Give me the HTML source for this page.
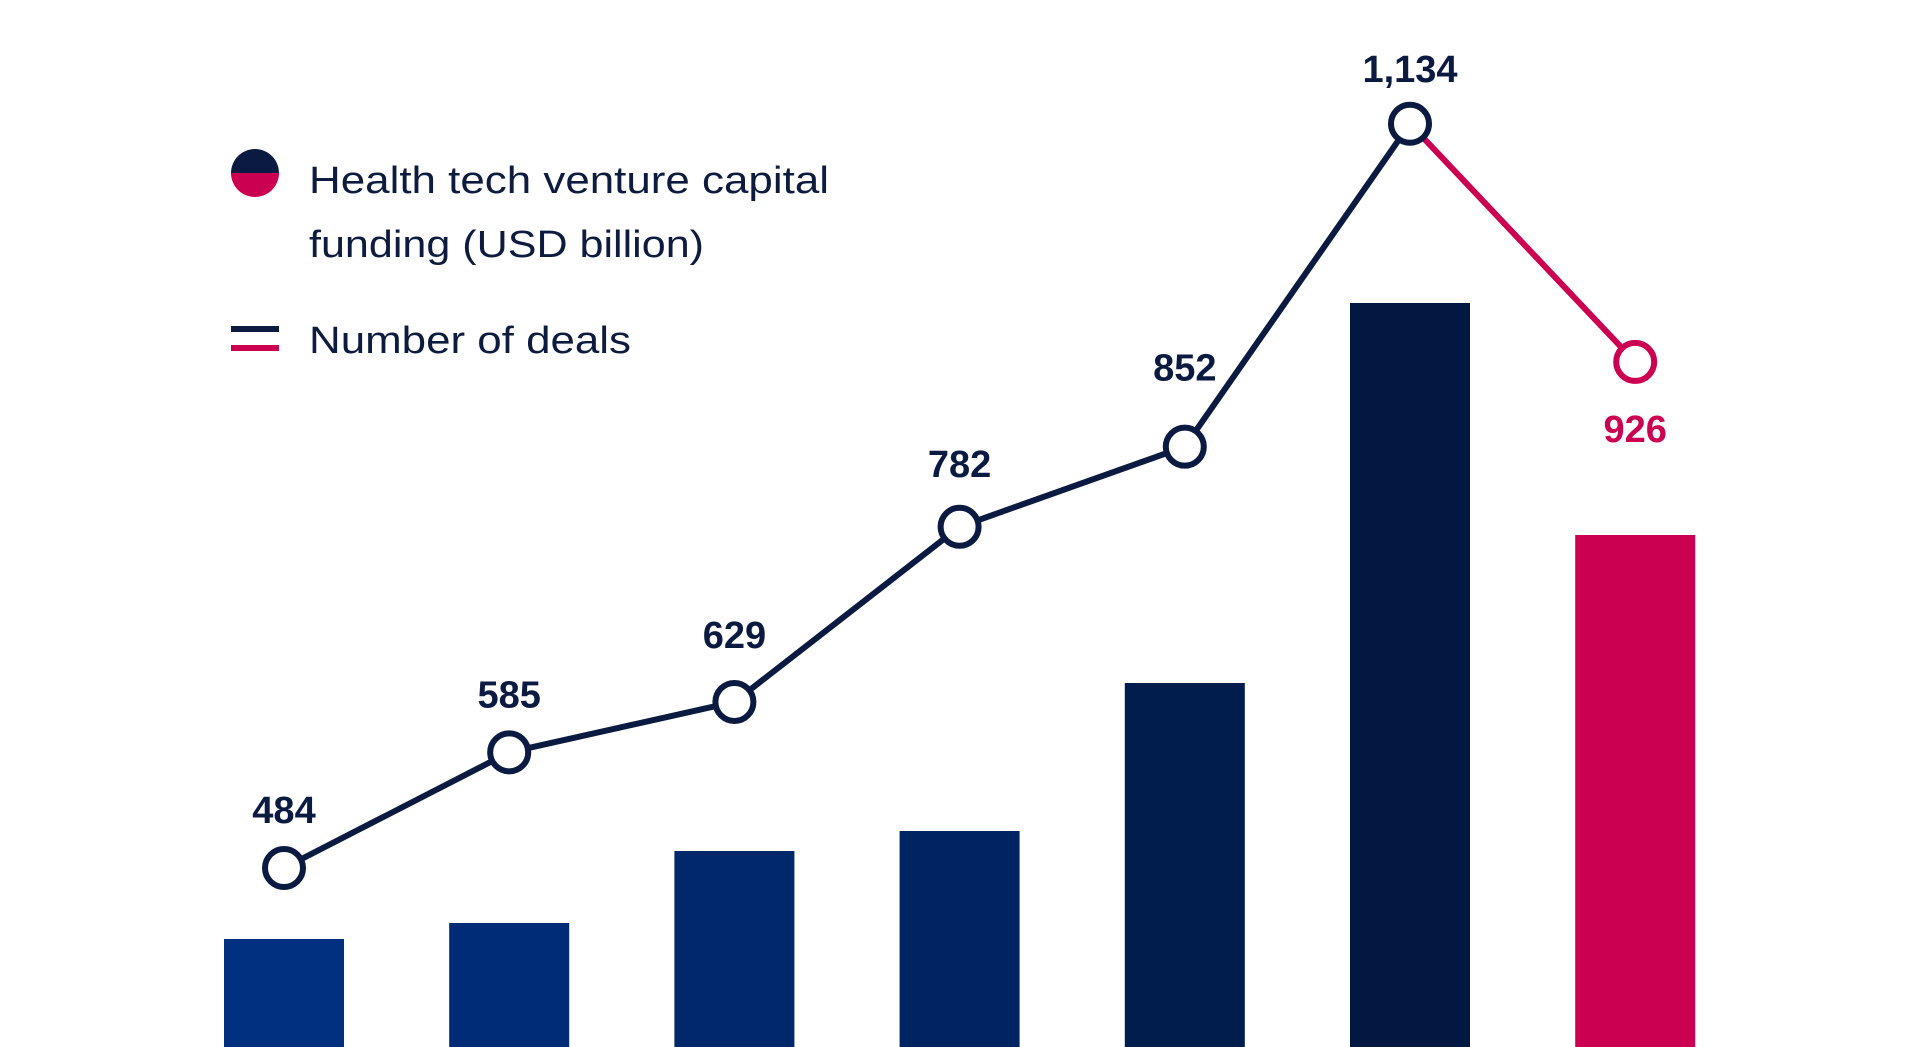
<!DOCTYPE html>
<html><head><meta charset="utf-8"><style>
html,body{margin:0;padding:0;background:#fff;width:1920px;height:1047px;overflow:hidden}
svg{display:block}
text{font-family:"Liberation Sans",sans-serif}
</style></head><body>
<svg id="chart" width="1920" height="1047" viewBox="0 0 1920 1047">
<g id="bars"></g>
<g id="line"></g>
<g>
 <g>
  <path d="M231 173 A24 24 0 0 1 279 173 Z" fill="#0b1a40"/>
  <path d="M231 173 A24 24 0 0 0 279 173 Z" fill="#cc0051"/>
 </g>
 <text x="309" y="193" font-size="38" fill="#0d1b3e" textLength="520" lengthAdjust="spacingAndGlyphs">Health tech venture capital</text>
 <text x="309" y="257" font-size="38" fill="#0d1b3e" textLength="395" lengthAdjust="spacingAndGlyphs">funding (USD billion)</text>
 <g>
  <rect x="231" y="326" width="48" height="6" fill="#0b1a40"/>
  <rect x="231" y="345" width="48" height="6" fill="#cc0051"/>
 </g>
 <text x="309" y="353" font-size="38" fill="#0d1b3e" textLength="322" lengthAdjust="spacingAndGlyphs">Number of deals</text>
</g>
</svg>
<script>
const categories = ["2015","2016","2017","2018","2019","2020","2021"];
const funding = [2.7, 3.1, 4.9, 5.4, 9.1, 18.6, 12.8];
const deals = [484, 585, 629, 782, 852, 1134, 926];
const dealLabels = ["484","585","629","782","852","1,134","926"];
const barColors = ["#00307f","#002b76","#00286b","#002461","#001d4e","#021840","#cc0051"];
const labelOffsets = [-45, -45, -54, -50, -66, -42, 80];

const NS = "http://www.w3.org/2000/svg";
const xPos = i => 284 + i * 225.2;
const yBar = v => 1047 - v * 40;
const yDeal = v => 868 - (v - 484) * 1.145;
const barW = 120;

const gb = document.getElementById('bars');
funding.forEach((v, i) => {
  const r = document.createElementNS(NS, 'rect');
  r.setAttribute('x', xPos(i) - barW / 2);
  r.setAttribute('y', yBar(v));
  r.setAttribute('width', barW);
  r.setAttribute('height', 1047 - yBar(v) + 5);
  r.setAttribute('fill', barColors[i]);
  
  
  gb.appendChild(r);
});

const gl = document.getElementById('line');
const last = deals.length - 1;
for (let i = 0; i < last; i++) {
  const l = document.createElementNS(NS, 'line');
  l.setAttribute('x1', xPos(i)); l.setAttribute('y1', yDeal(deals[i]));
  l.setAttribute('x2', xPos(i + 1)); l.setAttribute('y2', yDeal(deals[i + 1]));
  l.setAttribute('stroke', i === last - 1 ? '#cc0051' : '#0b1a40');
  l.setAttribute('stroke-width', '6');
  
  
  gl.appendChild(l);
}
deals.forEach((v, i) => {
  const col = i === last ? '#cc0051' : '#0b1a40';
  const c = document.createElementNS(NS, 'circle');
  c.setAttribute('cx', xPos(i)); c.setAttribute('cy', yDeal(v));
  c.setAttribute('r', '19');
  c.setAttribute('fill', '#fff');
  c.setAttribute('stroke', col);
  c.setAttribute('stroke-width', '6');
  
  
  gl.appendChild(c);
  const t = document.createElementNS(NS, 'text');
  t.setAttribute('x', xPos(i));
  t.setAttribute('y', yDeal(v) + labelOffsets[i]);
  t.setAttribute('text-anchor', 'middle');
  t.setAttribute('font-size', '38');
  t.setAttribute('font-weight', 'bold');
  t.setAttribute('fill', col);
  t.textContent = dealLabels[i];
  
  
  gl.appendChild(t);
});
</script>
</body></html>
